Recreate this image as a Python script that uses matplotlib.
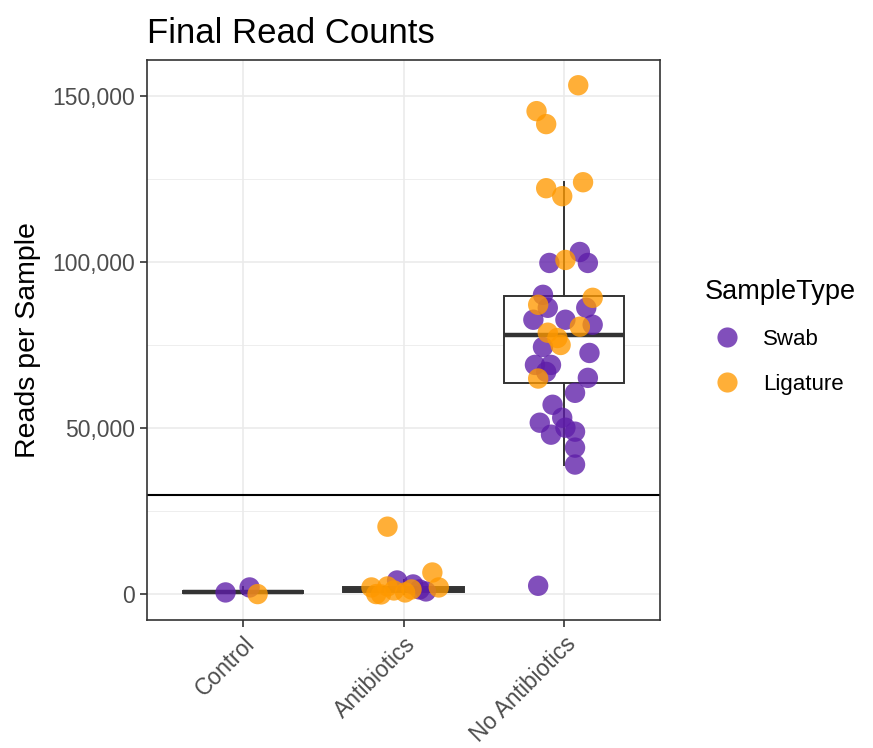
import matplotlib
matplotlib.use("Agg")
import matplotlib.pyplot as plt
from matplotlib.ticker import FuncFormatter, FixedLocator
from matplotlib.lines import Line2D

plt.rcParams['font.family'] = ['Liberation Sans', 'DejaVu Sans']

# ---------------- data ----------------
groups = ["Control", "Antibiotics", "No Antibiotics"]
sample_types = ["Swab", "Ligature"]

# Swab samples: group index, reads, horizontal jitter (category units)
swab_group = [0, 0,
              1, 1, 1, 1,
              2, 2, 2, 2, 2, 2, 2, 2, 2, 2, 2, 2, 2, 2, 2, 2, 2, 2, 2, 2, 2, 2, 2, 2, 2]
swab_reads = [600, 2100,
              4200, 900, 3000, 1500,
              103100, 99800, 99800, 90200, 86300, 86300, 82700, 82700, 81200,
              74500, 72700, 69100, 69100, 67000, 65200, 60700, 57100, 53200,
              51700, 50200, 49000, 48100, 44200, 39100, 2600]
swab_jitter = [-0.11, 0.04,
               -0.04, 0.14, 0.06, 0.10,
               0.10, -0.09, 0.15, -0.13, 0.14, -0.10, -0.19, 0.01, 0.18,
               -0.13, 0.16, -0.18, -0.08, -0.11, 0.15, 0.07, -0.07, -0.01,
               -0.15, 0.01, 0.07, -0.08, 0.07, 0.07, -0.16]

# Ligature samples
lig_group = [0,
             1, 1, 1, 1, 1, 1, 1, 1, 1, 1,
             2, 2, 2, 2, 2, 2, 2, 2, 2, 2, 2, 2, 2, 2]
lig_reads = [100,
             20400, 6600, 2100, 100, 2400, 0, 1500, 600, 2100, 1200,
             153300, 145500, 141600, 124100, 122300, 119900, 100700, 89300,
             87200, 80600, 78800, 77200, 75100, 65000]
lig_jitter = [0.09,
              -0.10, 0.18, -0.20, -0.17, -0.10, -0.14, 0.05, 0.01, 0.22, -0.06,
              0.09, -0.17, -0.11, 0.12, -0.11, -0.01, 0.01, 0.18,
              -0.16, 0.10, -0.10, -0.04, -0.02, -0.16]

# Box-plot statistics per group
box_whislo = [100, 0, 39100]
box_q1 = [300, 600, 63700]
box_med = [600, 1200, 78150]
box_q3 = [1000, 2100, 89900]
box_whishi = [2100, 4200, 124100]

threshold = 30000

yticks = [0, 50000, 100000, 150000]
yminor = [25000, 75000, 125000]

# ---------------- styling ----------------
purple = "#5E1DA8"
orange = "#FF9900"
alpha = 0.78
dark = "#333333"
grid_c = "#EBEBEB"
text_c = "#4D4D4D"

fig = plt.figure(figsize=(8.73, 7.48), dpi=100)
ax = fig.add_axes([147/873, 128/748, 513/873, 560/748])

# grid
for y in yminor:
    ax.axhline(y, color=grid_c, lw=0.6, zorder=0)
for y in yticks:
    ax.axhline(y, color=grid_c, lw=1.2, zorder=0)
for i in range(len(groups)):
    ax.axvline(i + 1, color=grid_c, lw=1.2, zorder=0)

# boxplots
stats = []
for i in range(len(groups)):
    stats.append(dict(whislo=box_whislo[i], q1=box_q1[i], med=box_med[i],
                      q3=box_q3[i], whishi=box_whishi[i], fliers=[]))
ax.bxp(stats, positions=[1, 2, 3], widths=0.75, showfliers=False,
       patch_artist=True, showcaps=False, manage_ticks=False,
       boxprops=dict(facecolor="white", edgecolor=dark, linewidth=1.4),
       medianprops=dict(color=dark, linewidth=3.2, solid_capstyle="butt"),
       whiskerprops=dict(color=dark, linewidth=1.4), zorder=2)

# threshold line
ax.axhline(threshold, color="black", lw=1.5, zorder=3)

# points
sx = [g + 1 + j for g, j in zip(swab_group, swab_jitter)]
lx = [g + 1 + j for g, j in zip(lig_group, lig_jitter)]
ax.scatter(sx, swab_reads, s=215, color=purple, alpha=alpha, edgecolors="none", zorder=4)
ax.scatter(lx, lig_reads, s=215, color=orange, alpha=alpha, edgecolors="none", zorder=4)

# axes
ax.set_xlim(0.4, 3.6)
ax.set_ylim(-7700, 160900)
ax.set_xticks([1, 2, 3])
ax.set_xticklabels(groups, rotation=45, ha="right", rotation_mode="anchor",
                   fontsize=16.5, color=text_c)
ax.yaxis.set_major_locator(FixedLocator(yticks))
ax.yaxis.set_major_formatter(FuncFormatter(lambda v, p: f"{int(v):,}"))
ax.tick_params(axis="y", labelsize=16.5, labelcolor=text_c)
ax.tick_params(axis="both", color=dark, length=5, width=1.2)
ax.tick_params(axis="x", pad=4)
for s in ax.spines.values():
    s.set_color(dark)
    s.set_linewidth(1.2)
    s.set_zorder(5)

ax.set_ylabel("Reads per Sample", fontsize=20.5, color="black", labelpad=8)
ax.set_title("Final Read Counts", fontsize=25, loc="left", pad=12, color="black")

# legend
handles = [Line2D([0], [0], marker="o", ls="none", markersize=14.5,
                  markerfacecolor=purple, markeredgecolor="none", alpha=alpha),
           Line2D([0], [0], marker="o", ls="none", markersize=14.5,
                  markerfacecolor=orange, markeredgecolor="none", alpha=alpha)]
leg = fig.legend(handles, sample_types, title="SampleType",
                 loc="upper left", bbox_to_anchor=(685/873, 1 - 259/748),
                 frameon=False, fontsize=16, title_fontsize=19.5,
                 handletextpad=0.6, labelspacing=1.08, alignment="left")

fig.savefig("out.png", dpi=100)
